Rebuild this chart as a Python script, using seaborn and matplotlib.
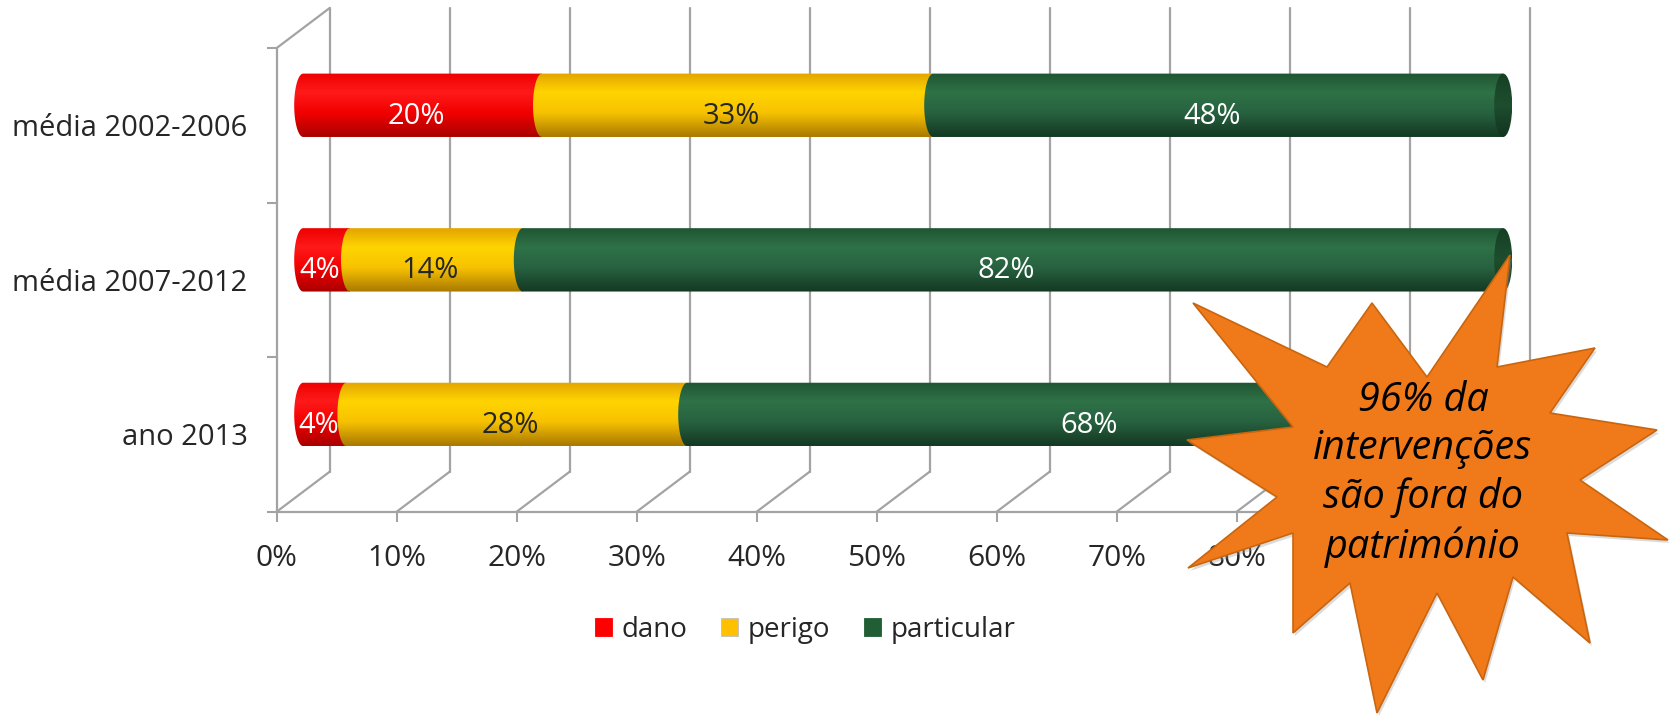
import numpy as np
import pandas as pd
import seaborn as sns
import matplotlib.pyplot as plt
from matplotlib import transforms
from matplotlib.path import Path
from matplotlib.patches import PathPatch, Ellipse, Polygon, Patch
from matplotlib.colors import LinearSegmentedColormap

# dados
categorias = ['média 2002-2006', 'média 2007-2012', 'ano 2013']
dano = [19.9, 3.9, 3.6]
perigo = [32.6, 14.4, 28.4]
particular = [47.5, 81.7, 68.0]
series = ['dano', 'perigo', 'particular']
x_ticks = [0, 10, 20, 30, 40, 50, 60, 70, 80, 90, 100]
x_labels = [f'{t}%' for t in x_ticks]
texto_estrela = '96% da\nintervenções\nsão fora do\npatrimónio'

cores = {'dano': '#FF0000', 'perigo': '#FFC000', 'particular': '#215E33'}
cor_texto = {'dano': 'white', 'perigo': '#262626', 'particular': 'white'}
gradientes = {
    'dano': ['#EE0000', '#FF1A1A', '#F20000', '#A80000'],
    'perigo': ['#E3A400', '#FFD400', '#F7C200', '#A87800'],
    'particular': ['#1F5533', '#2F7247', '#276240', '#143822'],
}

W, H = 1673, 715
sns.set_theme(style='white')
plt.rcParams['font.family'] = ['Open Sans', 'DejaVu Sans']

fig = plt.figure(figsize=(W / 100, H / 100), dpi=100)
ax = fig.add_axes([276.7 / W, 1 - 511.7 / H, 1200 / W, 463.7 / H])

df = pd.DataFrame({'categoria': categorias, 'dano': dano,
                   'perigo': perigo, 'particular': particular})
df['fim_dano'] = df['dano']
df['fim_perigo'] = df['fim_dano'] + df['perigo']
df['fim_particular'] = df['fim_perigo'] + df['particular']

# barras empilhadas: cada chamada desenha do zero ao fim acumulado
rects = {}
for s in series:
    n0 = len(ax.patches)
    sns.barplot(data=df, x='fim_' + s, y='categoria', orient='h', color=cores[s],
                saturation=1, width=0.41, errorbar=None, ax=ax)
    rects[s] = ax.patches[n0:]

ax.set_xlim(0, 100)
ax.set_ylim(2.5, -0.5)
ax.set_xlabel('')
ax.set_ylabel('')
for sp in ax.spines.values():
    sp.set_visible(False)

# deslocamentos "3D" em pixels
dx_back, dy_back = 53, 40
meio = transforms.offset_copy(ax.transData, fig=fig, x=dx_back / 2, y=dy_back / 2, units='dots')
fundo = transforms.offset_copy(ax.transData, fig=fig, x=dx_back, y=dy_back, units='dots')
rotulo = transforms.offset_copy(ax.transData, fig=fig, x=20, y=9, units='dots')
ident = transforms.IdentityTransform()
cinza = '#A3A3A3'

# parede do fundo e chão
for t in x_ticks:
    ax.plot([t, t], [2.5, -0.5], transform=fundo, color=cinza, lw=1.6, clip_on=False, zorder=1)
    p = ax.transData.transform((t, 2.5))
    ax.plot([p[0], p[0] + dx_back], [p[1], p[1] + dy_back], transform=ident,
            color=cinza, lw=1.6, clip_on=False, zorder=1)
p = ax.transData.transform((0, -0.5))
ax.plot([p[0], p[0] + dx_back], [p[1], p[1] + dy_back], transform=ident,
        color=cinza, lw=1.6, clip_on=False, zorder=1)
ax.plot([0, 0], [2.5, -0.5], color=cinza, lw=1.6, clip_on=False, zorder=1)
ax.plot([0, 100], [2.5, 2.5], color=cinza, lw=1.6, clip_on=False, zorder=1)

# cilindros a partir dos retângulos do seaborn
px_x = 1200 / 100
rx = 9 / px_x
grad = np.linspace(0, 1, 256).reshape(-1, 1)
tampa = LinearSegmentedColormap.from_list('tampa', ['#163F24', '#1E4E2E', '#123420'])
for i, s in enumerate(series):
    cmap = LinearSegmentedColormap.from_list(s, list(zip([0, 0.3, 0.62, 1], gradientes[s])))
    for j, r in enumerate(rects[s]):
        x1 = r.get_x() + r.get_width()
        x0 = 0 if i == 0 else rects[series[i - 1]][j].get_x() + rects[series[i - 1]][j].get_width()
        yt = r.get_y()
        yb = r.get_y() + r.get_height()
        yc = (yt + yb) / 2
        r.set_visible(False)
        tt = np.linspace(0, np.pi, 40)
        verts = [(x1, yt), (x1, yb), (x0, yb)]
        verts += list(zip(x0 - rx * np.sin(tt), yb - (yb - yt) * (1 - np.cos(tt)) / 2))
        verts.append((x1, yt))
        forma = PathPatch(Path(verts), transform=meio, facecolor='none', edgecolor='none',
                          zorder=3 + i, clip_on=False)
        ax.add_patch(forma)
        im = ax.imshow(grad, cmap=cmap, extent=(x0 - rx - 0.2, x1 + 0.2, yb, yt), origin='upper',
                       aspect='auto', transform=meio, interpolation='bilinear', zorder=3 + i)
        im.set_clip_box(fig.bbox)
        im.set_clip_path(forma)
        if i == len(series) - 1:
            cap = Ellipse((x1, yc), 2 * rx, yb - yt, transform=meio, facecolor='none',
                          edgecolor='none', zorder=8, clip_on=False)
            ax.add_patch(cap)
            im2 = ax.imshow(grad, cmap=tampa, extent=(x1 - rx, x1 + rx, yb, yt), origin='upper',
                            aspect='auto', transform=meio, interpolation='bilinear', zorder=8)
            im2.set_clip_box(fig.bbox)
            im2.set_clip_path(cap)
        valor = x1 - x0
        ax.text((x0 + x1) / 2, yc, f'{round(valor):.0f}%', transform=rotulo, ha='center', va='center',
                fontsize=21, color=cor_texto[s], zorder=9)

ax.set_xlim(0, 100)
ax.set_ylim(2.5, -0.5)

# eixos
ax.set_xticks(x_ticks, labels=x_labels)
ax.set_yticks([-0.5, 0.5, 1.5, 2.5], labels=['', '', '', ''])
ax.set_yticks([0, 1, 2], labels=categorias, minor=True)
ax.tick_params(axis='x', length=7.2, width=1.5, color=cinza, pad=16, labelsize=21.5,
               labelcolor='#262626', bottom=True)
ax.tick_params(axis='y', which='major', length=7.2, width=1.5, color=cinza, left=True)
ax.tick_params(axis='y', which='minor', length=0, pad=21, labelsize=21, labelcolor='#262626')
ax.grid(False)

# legenda
handles = [Patch(facecolor=cores[s], edgecolor='#BFBFBF' if s == 'perigo' else cores[s], lw=0.6)
           for s in series]
fig.legend(handles, series, loc='center', bbox_to_anchor=(805 / W, 1 - 630 / H), ncol=3,
           frameon=False, fontsize=20, handlelength=0.62, handleheight=0.62,
           handletextpad=0.35, columnspacing=1.2)

# estrela de destaque
pontas = [(1510, 255), (1595, 348), (1657, 430), (1668, 540), (1590, 643), (1483, 680),
          (1377, 713), (1293, 633), (1188, 568), (1187, 440), (1193, 303), (1372, 303)]
vales = [(1497, 367), (1550, 413), (1580, 480), (1567, 533), (1513, 577), (1437, 593),
         (1350, 583), (1293, 533), (1277, 497), (1293, 427), (1327, 367), (1427, 377)]
contorno = []
for a, b in zip(pontas, vales):
    contorno += [a, b]
contorno = [(x / W, 1 - y / H) for x, y in contorno]
fig.add_artist(Polygon([(x + 2 / W, y - 3 / H) for x, y in contorno], closed=True,
                       transform=fig.transFigure, facecolor='#9A9A9A', alpha=0.35,
                       edgecolor='none', zorder=10))
fig.add_artist(Polygon(contorno, closed=True, transform=fig.transFigure, facecolor='#F07A19',
                       edgecolor='#C9650F', lw=1.2, zorder=11))
fig.text(1423 / W, 1 - 474 / H, texto_estrela, ha='center', va='center', fontsize=28.5,
         style='italic', linespacing=1.26, color='black', zorder=12)

fig.savefig('out.png', dpi=100)
